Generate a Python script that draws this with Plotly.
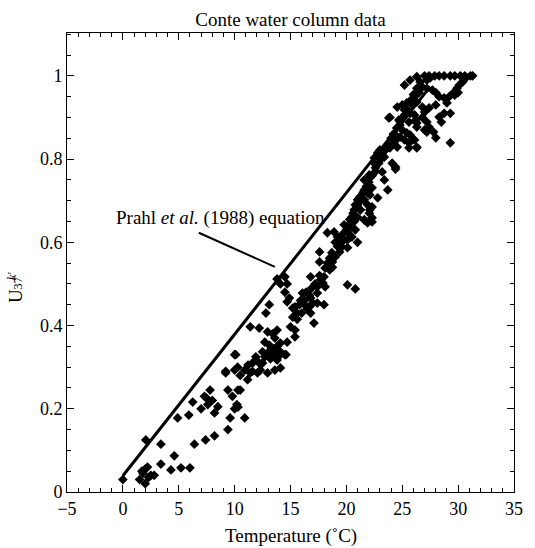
import plotly.graph_objects as go

# Temperature (°C) and UK'37 values
temperature = [
    0.0, 1.5, 1.8, 2.0, 2.2, 2.5, 2.8, 2.0, 1.7, 2.3, 2.05, 3.4, 3.4, 4.6, 4.3, 5.2, 6.0, 6.4, 7.4, 8.2,
    9.4, 4.9, 5.9, 6.25, 7.0, 7.3, 7.6, 7.8, 8.2, 8.0, 8.5, 7.5, 9.2, 9.6, 10.9, 9.8, 10.0, 10.3, 10.2, 10.0,
    10.27, 10.9, 10.5, 11.16, 11.6, 12.05, 12.5, 12.7, 13.2, 13.6, 14.1, 14.6, 13.8,
    14.1, 14.7, 14.5, 14.9, 14.7, 16.07, 16.7, 17.0, 16.25, 16.5, 16.8, 15.4, 15.6, 13.1, 12.8, 11.4,
    12.2, 12.95, 13.4, 13.8, 13.6, 15.0, 15.4, 15.4, 14.7, 14.1, 13.8, 12.7, 13.1, 12.5, 13.2, 13.6,
    14.1, 14.5, 11.9, 12.2, 11.6, 10.1, 11.2, 11.4, 12.3, 12.95, 14.1, 9.2, 10.0, 9.4, 10.5, 10.3,
    17.1, 17.4, 13.8, 14.5,
    18.3, 18.9, 19.0, 17.6, 17.6, 18.5, 18.75, 19.0, 19.4, 19.6, 20.1, 20.1, 20.5, 21.0, 18.75, 18.5,
    18.1, 16.8, 17.6, 17.7, 18.0, 17.4, 17.9, 18.1, 20.1, 20.8, 15.9, 16.8, 16.7, 16.25, 17.4, 18.0,
    15.2, 15.8, 21.2, 21.6, 21.9, 22.1, 21.25, 21.0, 20.7, 20.4, 20.1, 19.6, 19.2, 19.8, 20.4, 20.8,
    21.6, 21.9, 22.3, 22.1,
    23.9, 25.2, 25.6, 26.1, 26.3, 25.4, 25.9, 26.3, 25.6, 24.8, 24.3, 24.55, 23.9, 23.4, 22.8, 22.5,
    22.6, 22.05, 21.6, 22.1, 23.2, 23.4, 24.4, 23.7, 22.3, 21.6, 21.25, 21.0, 20.8, 20.7, 20.5, 20.4,
    19.8, 21.9, 22.3, 22.05, 21.25, 21.6, 22.3, 22.8, 26.3, 27.0, 26.8,
    25.2, 25.7, 26.3, 27.0, 27.4, 27.9, 28.3, 28.75, 29.3, 29.7, 30.2, 30.6, 31.1, 31.3, 30.7, 30.4,
    30.1, 29.9, 29.6, 29.2, 28.75, 28.3, 28.0, 27.7, 27.2, 26.8, 26.5, 26.1, 26.3, 25.9, 25.4, 25.0,
    24.55, 25.2, 25.4, 25.7, 26.8, 27.0, 27.4, 28.0, 29.0, 29.7, 30.0, 28.5, 29.3, 27.2, 27.2, 28.0,
    29.3, 26.3, 26.1, 25.7, 25.0, 24.8, 24.7, 24.4, 23.8, 23.9, 23.5, 23.0, 22.8, 23.2, 22.5, 24.55,
    25.2, 25.6, 24.1, 24.4, 27.2, 27.5, 28.3, 28.75, 27.8, 27.4, 26.2, 27.2,
    20.0, 20.3, 20.6, 21.0, 21.3, 21.5, 21.8, 22.0, 22.3, 22.6, 22.9, 23.1, 23.4, 23.7, 24.0, 24.2,
    24.5, 24.8, 25.1, 25.4, 25.7, 26.0, 26.3, 26.6,
    15.2, 15.6, 16.0, 16.4, 16.9, 17.2, 18.3, 18.7, 19.2, 19.5, 12.9, 13.4, 13.9,
]
uk37 = [
    0.03, 0.03, 0.045, 0.055, 0.06, 0.04, 0.04, 0.02, 0.05, 0.035, 0.125, 0.115, 0.067, 0.087, 0.053, 0.058, 0.058, 0.115, 0.125, 0.135,
    0.15, 0.178, 0.185, 0.216, 0.2, 0.23, 0.21, 0.245, 0.19, 0.22, 0.205, 0.225, 0.286, 0.178, 0.178, 0.23, 0.2, 0.245, 0.21, 0.33,
    0.30, 0.293, 0.28, 0.27, 0.29, 0.286, 0.31, 0.325, 0.32, 0.293, 0.33, 0.33, 0.317,
    0.50, 0.50, 0.48, 0.466, 0.457, 0.478, 0.473, 0.454, 0.46, 0.44, 0.43, 0.445, 0.43, 0.45, 0.43, 0.397,
    0.394, 0.385, 0.38, 0.389, 0.37, 0.397, 0.389, 0.373, 0.36, 0.358, 0.35, 0.36, 0.353, 0.337, 0.341, 0.33,
    0.337, 0.33, 0.325, 0.31, 0.31, 0.33, 0.305, 0.286, 0.293, 0.286, 0.298, 0.29, 0.293, 0.245, 0.245, 0.204,
    0.406, 0.478, 0.512, 0.517,
    0.623, 0.625, 0.60, 0.577, 0.553, 0.562, 0.553, 0.565, 0.577, 0.589, 0.587, 0.606, 0.613, 0.60, 0.54, 0.534,
    0.538, 0.517, 0.52, 0.51, 0.517, 0.493, 0.502, 0.493, 0.498, 0.488, 0.46, 0.466, 0.445, 0.45, 0.454, 0.45,
    0.442, 0.45, 0.709, 0.702, 0.69, 0.678, 0.678, 0.66, 0.65, 0.637, 0.625, 0.618, 0.613, 0.606, 0.613, 0.63,
    0.654, 0.647, 0.659, 0.714,
    0.90, 0.906, 0.889, 0.906, 0.877, 0.863, 0.846, 0.827, 0.839, 0.853, 0.841, 0.829, 0.827, 0.805, 0.81, 0.79,
    0.779, 0.762, 0.75, 0.755, 0.769, 0.75, 0.776, 0.726, 0.731, 0.726, 0.709, 0.702, 0.69, 0.678, 0.661, 0.647,
    0.642, 0.719, 0.685, 0.67, 0.678, 0.654, 0.649, 0.707, 0.887, 0.87, 0.90,
    0.978, 0.99, 0.998, 1.0, 1.0, 1.0, 1.0, 1.0, 1.0, 1.0, 1.0, 1.0, 1.0, 1.0, 0.995, 0.985,
    0.978, 0.97, 0.96, 0.95, 0.947, 0.95, 0.96, 0.966, 0.97, 0.973, 0.96, 0.95, 0.937, 0.93, 0.935, 0.93,
    0.925, 0.918, 0.91, 0.91, 0.925, 0.913, 0.923, 0.93, 0.935, 0.954, 0.96, 0.889, 0.91, 0.889, 0.865, 0.851,
    0.839, 0.829, 0.846, 0.858, 0.87, 0.882, 0.894, 0.858, 0.899, 0.829, 0.822, 0.822, 0.815, 0.805, 0.803, 0.851,
    0.846, 0.827, 0.79, 0.781, 0.99, 0.995, 0.901, 0.91, 0.865, 0.877, 0.894, 0.87,
    0.63, 0.655, 0.67, 0.69, 0.70, 0.72, 0.735, 0.745, 0.76, 0.77, 0.79, 0.80, 0.82, 0.835, 0.85, 0.86,
    0.875, 0.89, 0.90, 0.92, 0.94, 0.955, 0.97, 0.985,
    0.42, 0.415, 0.43, 0.48, 0.49, 0.50, 0.55, 0.575, 0.59, 0.60, 0.33, 0.345, 0.34,
]

# Prahl et al. (1988): UK'37 = 0.034 T + 0.039
prahl_T = [0.0, 27.5]
prahl_U = [0.034 * t + 0.039 for t in prahl_T]

x_ticks = [-5, 0, 5, 10, 15, 20, 25, 30, 35]
y_ticks = [0, 0.2, 0.4, 0.6, 0.8, 1.0]
y_ticklabels = ["0", "0.2", "0.4", "0.6", "0.8", "1"]

FONT = "Liberation Serif, Times New Roman, serif"
TXT = dict(family=FONT, size=19, color="black")
SMALL = dict(family=FONT, size=13, color="black")

fig = go.Figure()
fig.add_trace(go.Scatter(
    x=prahl_T, y=prahl_U, mode="lines",
    line=dict(color="black", width=3), showlegend=False, hoverinfo="skip",
))
fig.add_trace(go.Scatter(
    x=temperature, y=uk37, mode="markers",
    marker=dict(symbol="diamond", size=7.5, color="black", line=dict(width=0)),
    showlegend=False,
))

axis_common = dict(
    showgrid=False, zeroline=False, showline=True, linecolor="black", linewidth=1,
    mirror="allticks", ticks="inside", ticklen=7, tickwidth=1, tickcolor="black",
    tickfont=dict(family=FONT, size=18, color="black"),
)

fig.update_xaxes(
    range=[-5, 35], tickvals=x_ticks,
    minor=dict(dtick=1, ticks="inside", ticklen=4, tickcolor="black", tickwidth=1),
    **axis_common,
)
fig.update_yaxes(
    range=[0, 1.103], tickvals=y_ticks, ticktext=y_ticklabels,
    minor=dict(dtick=0.05, ticks="inside", ticklen=4, tickcolor="black", tickwidth=1),
    **axis_common,
)

# x-axis title
fig.add_annotation(x=0.5, y=-0.096, xref="paper", yref="paper", showarrow=False,
                   xanchor="center", yanchor="middle", text="Temperature (˚C)", font=TXT)
# y-axis title: U with stacked k′ (superscript) and 37 (subscript)
fig.add_annotation(x=0, y=0.427, xref="paper", yref="paper", xshift=-52, showarrow=False,
                   xanchor="center", yanchor="middle", text="U", textangle=-90, font=TXT)
fig.add_annotation(x=0, y=0.470, xref="paper", yref="paper", xshift=-56, showarrow=False,
                   xanchor="center", yanchor="middle", text="<i>k</i>′", textangle=-90, font=SMALL)
fig.add_annotation(x=0, y=0.456, xref="paper", yref="paper", xshift=-49, showarrow=False,
                   xanchor="center", yanchor="middle", text="37", textangle=-90, font=SMALL)

fig.add_annotation(
    x=8.7, y=0.659, xref="x", yref="y", showarrow=False, xanchor="center", yanchor="middle",
    text="Prahl <i>et al.</i> (1988) equation", font=TXT,
)
fig.add_shape(type="line", x0=6.8, y0=0.623, x1=13.6, y1=0.541, xref="x", yref="y",
              line=dict(color="black", width=2))

fig.update_layout(
    width=535, height=548,
    margin=dict(l=67, r=17, t=33, b=56),
    paper_bgcolor="white", plot_bgcolor="white",
    title=dict(text="Conte water column data", xref="paper", x=0.5, xanchor="center",
               yref="container", y=0.965, yanchor="middle", font=TXT),
    font=dict(family=FONT, color="black"),
)

fig.write_html("out.html")
